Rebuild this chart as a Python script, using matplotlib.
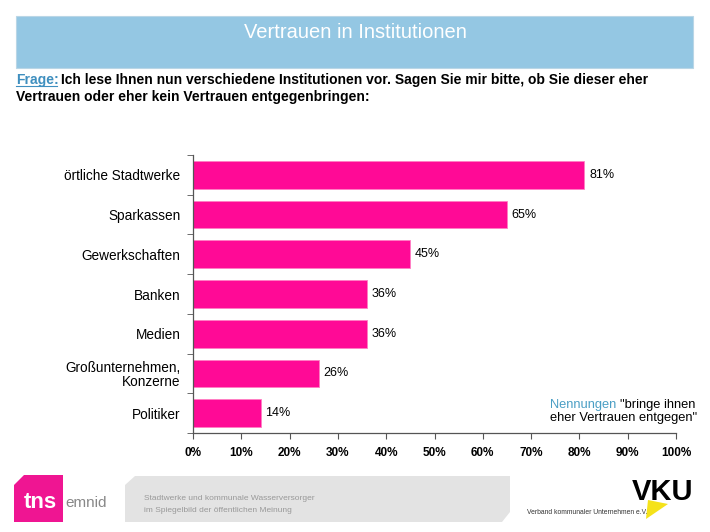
import numpy as np
import matplotlib
matplotlib.use('Agg')
import matplotlib.pyplot as plt
from matplotlib.patches import Rectangle, Polygon

plt.rcParams['font.family'] = ['Liberation Sans', 'DejaVu Sans']

# data
categories = ['örtliche Stadtwerke', 'Sparkassen', 'Gewerkschaften', 'Banken',
              'Medien', 'Großunternehmen,\nKonzerne', 'Politiker']
values = [81, 65, 45, 36, 36, 26, 14]
xticks = [0, 10, 20, 30, 40, 50, 60, 70, 80, 90, 100]

pink = '#ff0a96'
W, H = 710, 532

fig = plt.figure(figsize=(7.1, 5.32), dpi=100)

def fx(px):
    return px / W

def fy(py):
    return 1 - py / H

# title box
fig.patches.append(Rectangle((fx(16), fy(68)), fx(677), 52 / H, transform=fig.transFigure,
                             facecolor='#94c7e3', edgecolor='#b9d6e6', lw=0.8))
fig.text(fx(355), fy(33), 'Vertrauen in Institutionen', color='white', fontsize=14.5,
         ha='center', va='center')

# question
fig.text(fx(16), fy(80), 'Frage:', color='#3f8fbf', fontsize=10, fontweight='bold',
         va='center')
fig.add_artist(plt.Line2D([fx(16), fx(57)], [fy(86), fy(86)], color='#3f8fbf', lw=0.8))
fig.text(fx(61), fy(80), 'Ich lese Ihnen nun verschiedene Institutionen vor. Sagen Sie mir bitte, ob Sie dieser eher',
         fontsize=10, fontweight='bold', va='center')
fig.text(fx(16), fy(97), 'Vertrauen oder eher kein Vertrauen entgegenbringen:',
         fontsize=10, fontweight='bold', va='center')

# chart
ax = fig.add_axes([fx(193), fy(433), fx(676 - 193), (433 - 155) / H])
y = np.arange(len(categories))
bars = ax.barh(y, values, height=0.7, color=pink, edgecolor='#ff7fc4', lw=0.6)
for b, v in zip(bars, values):
    ax.text(b.get_width() + 1, b.get_y() + b.get_height() / 2, f'{v}%',
            va='center', ha='left', fontsize=9)
ax.set_xlim(0, 100)
ax.set_ylim(len(categories) - 0.5, -0.5)
ax.set_xticks(xticks)
ax.set_xticklabels([f'{t}%' for t in xticks], fontsize=8.5, fontweight='bold')
ax.set_yticks(y)
ax.set_yticklabels(categories, fontsize=9.8, linespacing=1.05)
ax.set_yticks(np.arange(len(categories) + 1) - 0.5, minor=True)
ax.tick_params(axis='y', which='major', length=0, pad=9)
ax.tick_params(axis='y', which='minor', length=4, color='#555555', direction='out')
ax.tick_params(axis='x', length=4, color='#555555', direction='out', pad=6)
for s in ['top', 'right']:
    ax.spines[s].set_visible(False)
for s in ['left', 'bottom']:
    ax.spines[s].set_color('#555555')
    ax.spines[s].set_linewidth(0.9)

# legend note
fig.text(fx(550), fy(405), 'Nennungen', color='#4a9ec4', fontsize=9.3, va='center')
fig.text(fx(620), fy(405), '"bringe ihnen', fontsize=9.3, va='center')
fig.text(fx(550), fy(418), 'eher Vertrauen entgegen"', fontsize=9.3, va='center')

# footer: tns emnid logo
fig.patches.append(Polygon([(fx(14), fy(522)), (fx(14), fy(485)), (fx(24), fy(475)),
                            (fx(63), fy(475)), (fx(63), fy(522))], closed=True,
                           transform=fig.transFigure, facecolor='#ef1592', edgecolor='none'))
fig.text(fx(24), fy(502), 'tns', color='white', fontsize=16, fontweight='bold', va='center')
fig.text(fx(65), fy(503), 'emnid', color='#888888', fontsize=11, va='center')

# footer: grey box
fig.patches.append(Polygon([(fx(125), fy(522)), (fx(125), fy(485)), (fx(135), fy(476)),
                            (fx(510), fy(476)), (fx(510), fy(512)), (fx(502), fy(522))],
                           closed=True, transform=fig.transFigure,
                           facecolor='#e3e3e3', edgecolor='none'))
fig.text(fx(144), fy(498), 'Stadtwerke und kommunale Wasserversorger', color='#999999',
         fontsize=6, va='center')
fig.text(fx(144), fy(510), 'im Spiegelbild der öffentlichen Meinung', color='#999999',
         fontsize=6, va='center')

# footer: VKU logo
fig.patches.append(Polygon([(fx(648), fy(500)), (fx(668), fy(504)), (fx(646), fy(519))],
                           closed=True, transform=fig.transFigure,
                           facecolor='#f5e21a', edgecolor='none'))
fig.text(fx(663), fy(492), 'VKU', color='black', fontsize=21, fontweight='bold',
         ha='center', va='center')
fig.text(fx(527), fy(513), 'Verband kommunaler Unternehmen e.V.', color='#333333',
         fontsize=4.9, va='center')

fig.savefig('out.png', dpi=100, facecolor='white')
